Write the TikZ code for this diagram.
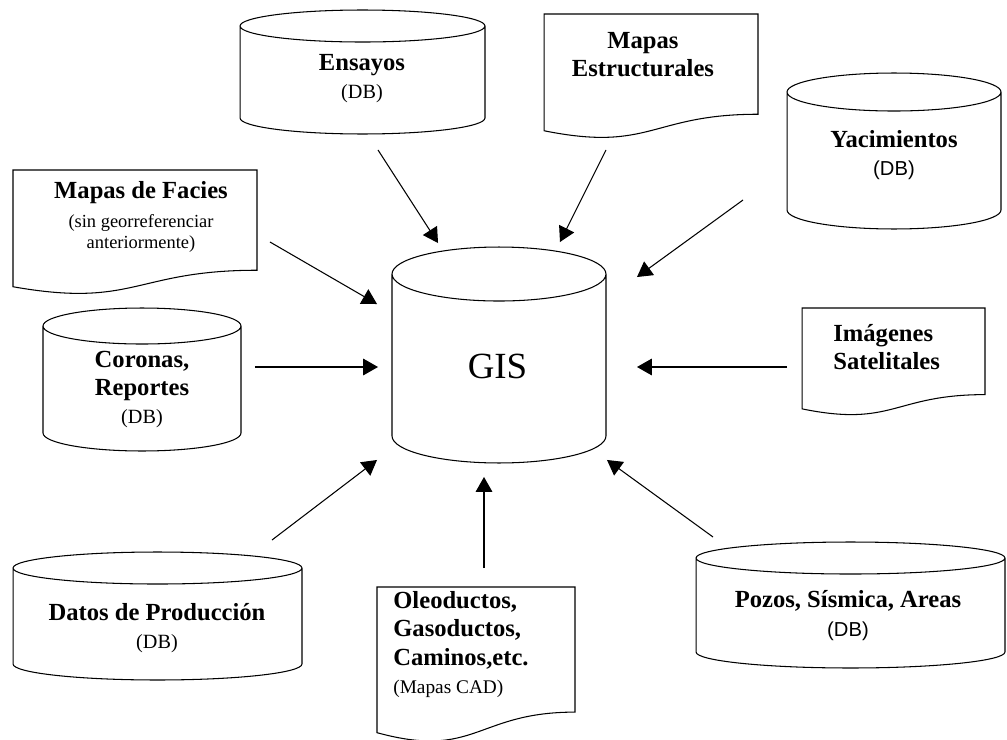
\documentclass[tikz,border=0pt]{standalone}
\usepackage{fontspec}
\setmainfont{Liberation Serif}
\newfontfamily\dbsans{Liberation Sans}
\usetikzlibrary{arrows.meta,calc}

\newcommand{\sm}[1]{{\fontsize{10.5}{12}\selectfont\mdseries #1}}
\newcommand{\dbtag}[1][]{{\fontsize{11.5}{12}\selectfont\mdseries #1(DB)}}
% outline of a database can around a box node, #2 = depth of the cap
\newcommand{\candb}[2]{%
  \draw[shp] let \p1=(#1.north west), \p2=(#1.south east), \n1={(\x2-\x1)/2} in
    ([yshift=-#2]#1.north) ellipse [x radius=\n1, y radius=#2]
    ([yshift=-#2]#1.north west) -- ([yshift=#2]#1.south west)
    arc [start angle=180, end angle=360, x radius=\n1, y radius=#2]
    -- ([yshift=-#2]#1.north east);}
% outline of a map sheet (wavy lower edge) around a box node
\newcommand{\docmap}[1]{%
  \draw[shp] (#1.north west) -- (#1.north east) -- ($(#1.north east)!.802!(#1.south east)$)
    .. controls ($(#1.north)!.802!(#1.south)$) and ($(#1.north)!1.107!(#1.south)$) ..
    ($(#1.north west)!.934!(#1.south west)$) -- cycle;}

\begin{document}
\begin{tikzpicture}[x=0.02cm, y=-0.02cm,
    box/.style={inner sep=0pt, outer sep=0pt},
    shp/.style={line width=0.6pt},
    ttl/.style={font=\fontsize{14}{16}\selectfont\bfseries, align=center, inner sep=0pt},
    arr/.style={-{Triangle[length=8.5pt, width=9.5pt]}, line width=0.6pt}]
  \useasboundingbox (0,0) rectangle (1007,740);

  % boxes
  \node[box, minimum width=4.9cm, minimum height=2.48cm] (ens) at (362.5,72) {};
  \node[box, minimum width=4.28cm, minimum height=2.5cm] (est) at (651,76.5) {};
  \node[box, minimum width=4.28cm, minimum height=3.12cm] (yac) at (894,151) {};
  \node[box, minimum width=4.88cm, minimum height=2.5cm] (fac) at (135,232.5) {};
  \node[box, minimum width=3.96cm, minimum height=2.86cm] (cor) at (142,379.5) {};
  \node[box, minimum width=4.28cm, minimum height=4.32cm] (gis) at (499,355) {};
  \node[box, minimum width=3.66cm, minimum height=2.16cm] (img) at (893.5,362) {};
  \node[box, minimum width=5.78cm, minimum height=2.56cm] (dat) at (157.5,616) {};
  \node[box, minimum width=3.96cm, minimum height=3.12cm] (ole) at (476,665) {};
  \node[box, minimum width=6.18cm, minimum height=2.52cm] (poz) at (850.5,605) {};

  \candb{ens}{0.32cm} \candb{yac}{0.38cm} \candb{cor}{0.36cm}
  \candb{gis}{0.54cm} \candb{dat}{0.32cm} \candb{poz}{0.32cm}
  \docmap{est} \docmap{fac} \docmap{img} \docmap{ole}

  % texts
  \node[ttl] (ens-t) at (362,79) {Ensayos\\\dbtag};
  \node[ttl] (est-t) at (643,54.5) {Mapas\\Estructurales};
  \node[ttl] (yac-t) at (894,155.5) {Yacimientos\\\dbtag[\dbsans]};
  \node[ttl] (fac-t) at (141,217) {Mapas de Facies\\\sm{(sin georreferenciar}\\[-4pt]\sm{anteriormente)}};
  \node[ttl] (cor-t) at (142,389.5) {Coronas,\\Reportes\\\dbtag};
  \node[ttl, font=\fontsize{21}{24}\selectfont] (gis-t) at (497.5,366) {GIS};
  \node[ttl, align=left, anchor=west] (img-t) at (833,347.5) {Imágenes\\Satelitales};
  \node[ttl] (dat-t) at (157,628.5) {Datos de Producción\\\dbtag};
  \node[ttl, align=left, anchor=west] (ole-t) at (393,644.5) {Oleoductos,\\Gasoductos,\\Caminos,etc.\\{\fontsize{11}{12}\selectfont\mdseries (Mapas CAD)}};
  \node[ttl] (poz-t) at (848,615.5) {Pozos, Sísmica, Areas\\\dbtag[\dbsans]};

  % arrows into the GIS
  \foreach \a/\sa/\b/\sb in {ens.south/{15.5,16}/gis.north west/{46,-4},
      est.south/{-45,11}/gis.north east/{-46,-5},
      yac.west/{-44,49}/gis.north east/{31,30},
      fac.east/{13,9.5}/gis.north west/{-15,57},
      cor.east/{14,-12.5}/gis.west/{-14,12},
      img.west/{-15,5}/gis.east/{31,12},
      dat.north east/{-30,-12}/gis.south west/{-15,-3},
      ole.north/{8,-19}/gis.south/{-15,14},
      poz.north west/{17,-5}/gis.south east/{1,-3}}
    \draw[arr] ([shift={(\sa)}]\a) -- ([shift={(\sb)}]\b);
\end{tikzpicture}
\end{document}
